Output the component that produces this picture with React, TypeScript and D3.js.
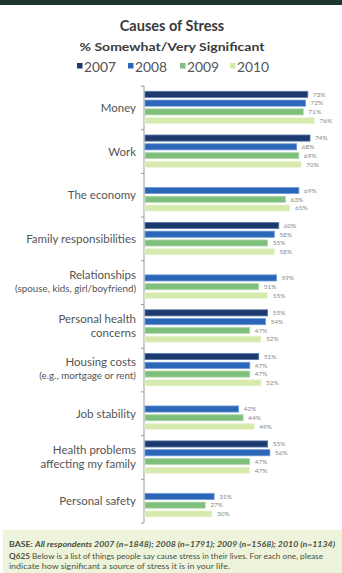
import React from "react";
import * as d3 from "d3";

const categories = [
  "Money",
  "Work",
  "The economy",
  "Family responsibilities",
  "Relationships",
  "Personal health concerns",
  "Housing costs",
  "Job stability",
  "Health problems affecting my family",
  "Personal safety",
];
const labelMain = [
  ["Money"],
  ["Work"],
  ["The economy"],
  ["Family responsibilities"],
  ["Relationships"],
  ["Personal health", "concerns"],
  ["Housing costs"],
  ["Job stability"],
  ["Health problems", "affecting my family"],
  ["Personal safety"],
];
const labelSub = ["", "", "", "", "(spouse, kids, girl/boyfriend)", "", "(e.g., mortgage or rent)", "", "", ""];

const years = ["2007", "2008", "2009", "2010"];
const v2007 = [73, 74, null, 60, null, 55, 51, null, 55, null];
const v2008 = [72, 68, 69, 58, 59, 54, 47, 42, 56, 31];
const v2009 = [71, 69, 63, 55, 51, 47, 47, 44, 47, 27];
const v2010 = [76, 70, 65, 58, 55, 52, 52, 49, 47, 30];
const seriesValues = [v2007, v2008, v2009, v2010];

const colors = ["#1d3a6e", "#2c66b8", "#7fbf7c", "#d6eaae"];
const strokes = ["#5a78a6", "#6f9ad6", "#b4dbb0", "#eef6d8"];

const W = 342;
const H = 573;

export default function App() {
  const y = d3.scaleBand<string>().domain(categories).range([86, 523]);
  const yInner = d3.scaleBand<string>().domain(years).range([4, 39]).paddingInner(0.3).paddingOuter(0.15);
  const x = d3.scaleLinear().domain([0, 100]).range([145, 368]);
  const axisX = 144;
  const font = "Lato, 'Open Sans', sans-serif";

  const legendX = [77, 128, 180, 230];

  return (
    <svg width={W} height={H} style={{ position: "absolute", left: 0, top: 0, background: "#fff" }} fontFamily={font}>
      <rect x={0} y={0} width={W} height={5} fill="#1f3530" />
      <text x={172} y={31} textAnchor="middle" fontSize={14.5} fontWeight="bold" fill="#3a3a3a">
        Causes of Stress
      </text>
      <text x={172} y={51} textAnchor="middle" fontSize={12} fontWeight="bold" fill="#3a3a3a" textLength={185} lengthAdjust="spacingAndGlyphs">
        % Somewhat/Very Significant
      </text>
      {years.map((yr, i) => (
        <g key={yr}>
          <rect x={legendX[i]} y={63} width={5.5} height={5.5} fill={colors[i]} />
          <text x={legendX[i] + 7} y={71.5} fontSize={13} fill="#555" textLength={32} lengthAdjust="spacingAndGlyphs">
            {yr}
          </text>
        </g>
      ))}

      <line x1={axisX} x2={axisX} y1={86} y2={523} stroke="#9a9a9a" strokeWidth={1} />
      {[...categories.map((c) => y(c) as number), 523].map((t, i) => (
        <line key={i} x1={axisX - 3} x2={axisX} y1={t} y2={t} stroke="#9a9a9a" strokeWidth={1} />
      ))}

      {categories.map((c, ci) => {
        const by = y(c) as number;
        const bw = y.bandwidth();
        const cy = by + bw / 2;
        const main = labelMain[ci];
        const sub = labelSub[ci];
        let lines: { t: string; s: number; dy: number }[] = [];
        if (sub) {
          lines = [
            { t: main[0], s: 11.5, dy: -8 },
            { t: sub, s: 9.8, dy: 6 },
          ];
        } else if (main.length === 2) {
          lines = [
            { t: main[0], s: 11.5, dy: -7 },
            { t: main[1], s: 11.5, dy: 6.5 },
          ];
        } else {
          lines = [{ t: main[0], s: 11.5, dy: 0 }];
        }
        return (
          <g key={c}>
            {lines.map((l, li) => (
              <text key={li} x={136} y={cy + l.dy} dy="0.35em" textAnchor="end" fontSize={l.s} fill="#555">
                {l.t}
              </text>
            ))}
            {years.map((yr, si) => {
              const v = seriesValues[si][ci];
              if (v == null) return null;
              const yy = by + (yInner(yr) as number);
              const h = yInner.bandwidth();
              return (
                <g key={yr}>
                  <rect x={x(0)} y={yy} width={x(v) - x(0)} height={h} fill={colors[si]} stroke={strokes[si]} strokeWidth={0.8} />
                  <text x={x(v) + 5} y={yy + h / 2} dy="0.35em" fontSize={6.5} fill="#888">
                    {v}%
                  </text>
                </g>
              );
            })}
          </g>
        );
      })}

      <rect x={3} y={530} width={W - 3} height={43} fill="#eef4dc" />
      <text x={9} y={546.5} fontSize={7} fill="#4a4f40" fontWeight="bold" textLength={326} lengthAdjust="spacingAndGlyphs">
        BASE: <tspan fontStyle="italic">All respondents 2007 (n=1848); 2008 (n=1791); 2009 (n=1568); 2010 (n=1134)</tspan>
      </text>
      <text x={9} y={559} fontSize={7} fill="#4a4f40" textLength={314} lengthAdjust="spacingAndGlyphs">
        <tspan fontWeight="bold">Q625</tspan> Below is a list of things people say cause stress in their lives. For each one, please
      </text>
      <text x={9} y={568.5} fontSize={7} fill="#4a4f40" textLength={221} lengthAdjust="spacingAndGlyphs">
        indicate how significant a source of stress it is in your life.
      </text>
    </svg>
  );
}
